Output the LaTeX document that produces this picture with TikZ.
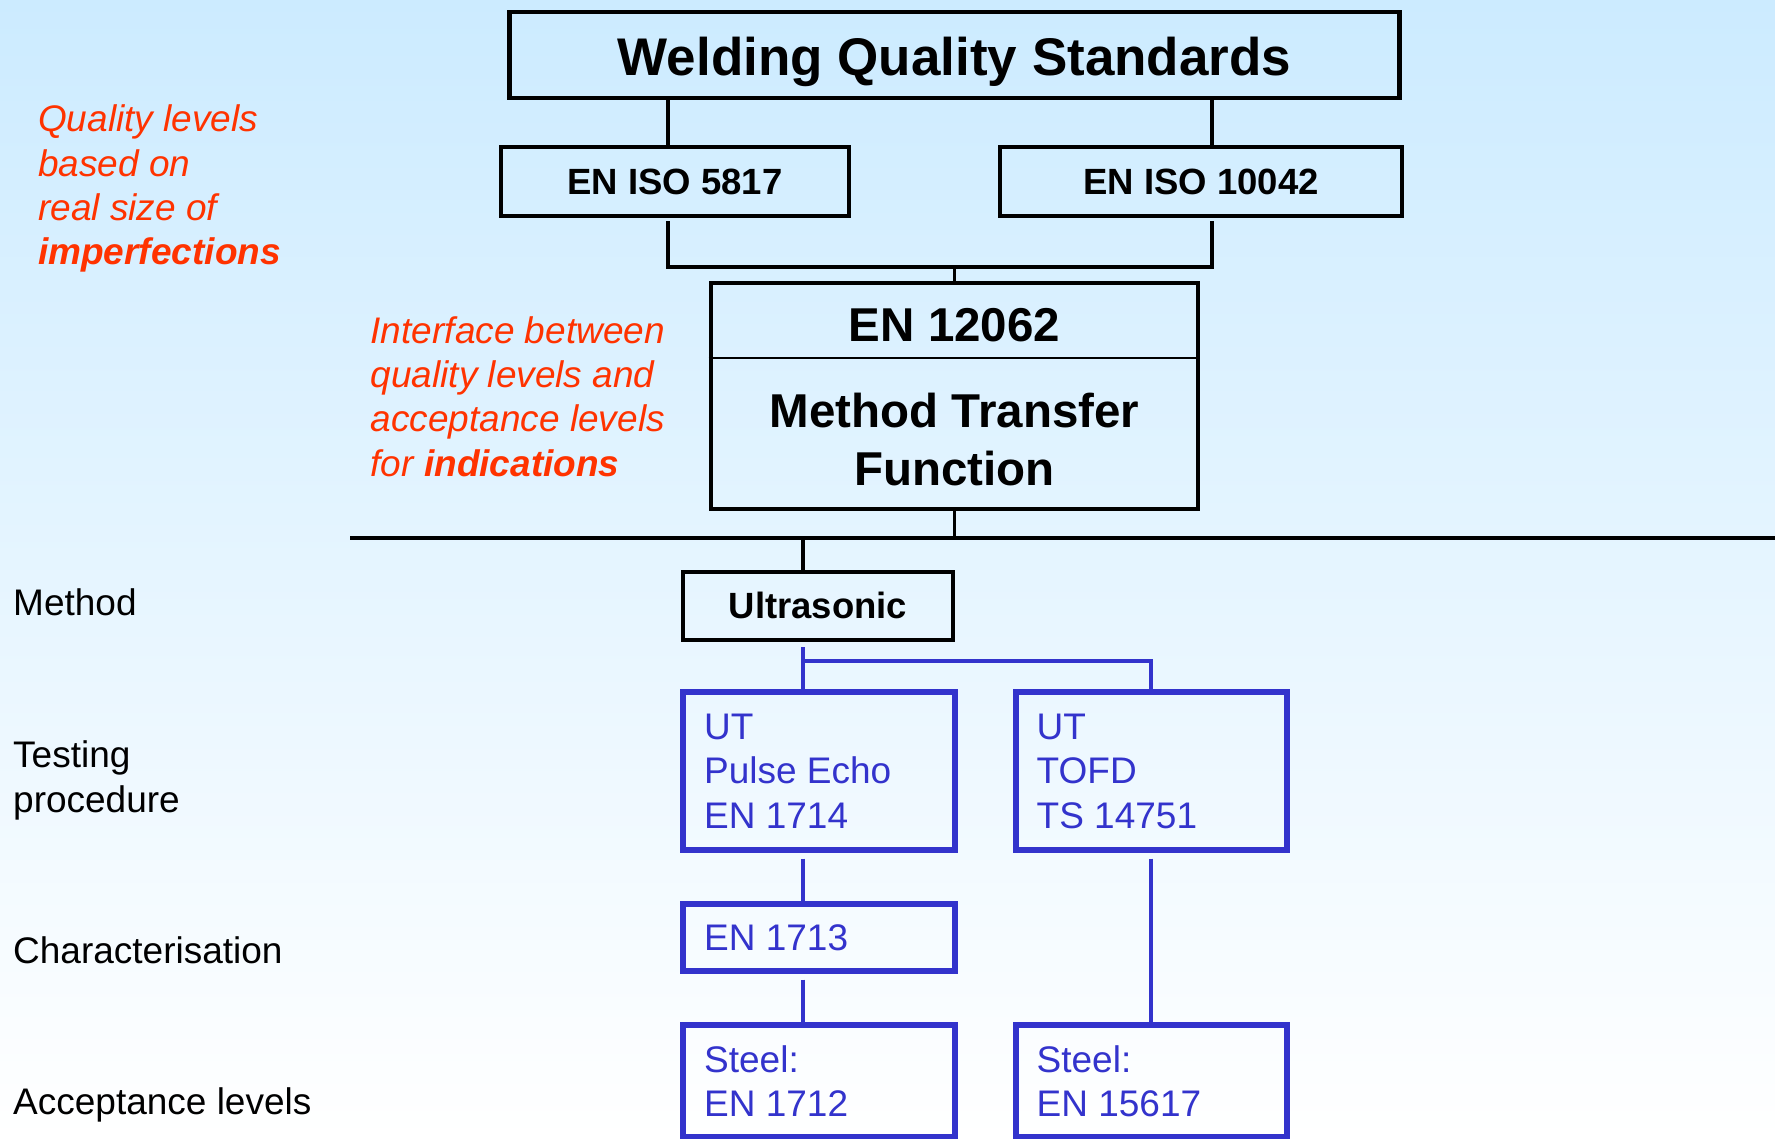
\documentclass[tikz,border=0pt]{standalone}
\usepackage{fontspec}
\setmainfont{Liberation Sans}
\definecolor{bgtop}{HTML}{CCEBFF}
\definecolor{ublue}{HTML}{3333CC}
\definecolor{ored}{HTML}{FF3300}
\newcommand\myfs[2]{\fontsize{#1}{#2}\selectfont}
\begin{document}
\begin{tikzpicture}[x=1pt,y=-1pt,
  blk/.style={draw=black,line width=4.8pt,inner sep=0pt},
  blu/.style={draw=ublue,line width=5.2pt,inner sep=0pt},
  btxt/.style={anchor=base,inner sep=0pt,font=\bfseries\myfs{#1}{#1}},
  utxt/.style={anchor=base west,inner sep=0pt,text=ublue,font=\myfs{37}{37}},
  lbl/.style={anchor=base west,inner sep=0pt,font=\myfs{37}{37}},
  note/.style={anchor=base west,inner sep=0pt,text=ored,font=\itshape\myfs{37}{37}},
  bline/.style={draw=black,line width=3.2pt},
  uline/.style={draw=ublue,line width=3.5pt}]
\useasboundingbox (0,0) rectangle (1775,1139);
\shade[top color=bgtop,bottom color=white] (0,0) rectangle (1775,1139);

% black boxes
\node[blk,minimum width=890pt,minimum height=86pt] (wqs) at (954.5,55) {};
\node[btxt=53] (wqst) at (954.5,75.5) {Welding Quality Standards};
\node[blk,minimum width=348pt,minimum height=69pt] (s5817) at (675,181.5) {};
\node[btxt=36.5] (s5817t) at (675,195) {EN ISO 5817};
\node[blk,minimum width=402pt,minimum height=69pt] (s10042) at (1201,181.5) {};
\node[btxt=36.5] (s10042t) at (1201,195) {EN ISO 10042};
\node[blk,minimum width=487pt,minimum height=226pt] (en) at (954.5,396) {};
\node[btxt=47.5] (ent) at (954.5,341.5) {EN 12062};
\node[btxt=47.5] (mt1) at (954.5,428) {Method Transfer};
\node[btxt=47.5] (mt2) at (954.5,485) {Function};
\coordinate (dv) at (0,358);
\draw[line width=2.7pt] (en.west |- dv) -- (en.east |- dv);
\node[blk,minimum width=270pt,minimum height=68pt] (ult) at (818,606) {};
\node[btxt=36.5] (ultt) at (818,618) {Ultrasonic};

% blue boxes
\node[blu,minimum width=272pt,minimum height=158pt] (pe) at (819,771) {};
\node[utxt] (pe1) at (704,739.3) {UT};
\node[utxt] (pe2) at (704,783.8) {Pulse Echo};
\node[utxt] (pe3) at (704,828.3) {EN 1714};
\node[blu,minimum width=271pt,minimum height=158pt] (tofd) at (1151.5,771) {};
\node[utxt] (tf1) at (1036.5,739.3) {UT};
\node[utxt] (tf2) at (1036.5,783.8) {TOFD};
\node[utxt] (tf3) at (1036.5,828.3) {TS 14751};
\node[blu,minimum width=272pt,minimum height=67pt] (e1713) at (819,937.5) {};
\node[utxt] (e1713t) at (704,950.5) {EN 1713};
\node[blu,minimum width=272pt,minimum height=112pt] (e1712) at (819,1081) {};
\node[utxt] (e1712a) at (704,1072) {Steel:};
\node[utxt] (e1712b) at (704,1116) {EN 1712};
\node[blu,minimum width=271pt,minimum height=112pt] (e15617) at (1151.5,1081) {};
\node[utxt] (e15617a) at (1036.5,1072) {Steel:};
\node[utxt] (e15617b) at (1036.5,1116) {EN 15617};

% left labels
\node[lbl] (lm) at (13,615) {Method};
\node[lbl] (lt1) at (13,767.5) {Testing};
\node[lbl] (lt2) at (13,812.5) {procedure};
\node[lbl] (lc) at (13,963.5) {Characterisation};
\node[lbl] (la) at (13,1114) {Acceptance levels};

% red notes
\node[note] (q1) at (38,131.7) {Quality levels};
\node[note] (q2) at (38,176.2) {based on};
\node[note] (q3) at (38,220.2) {real size of};
\node[note] (q4) at (38,264.2) {\bfseries imperfections};
\node[note] (i1) at (370.5,343.3) {Interface between};
\node[note] (i2) at (370.5,387.3) {quality levels and};
\node[note] (i3) at (370.5,431.8) {acceptance levels};
\node[note] (i4) at (370.5,476.3) {for \bfseries indications};

% black connectors
\coordinate (xa) at (668,0);
\coordinate (xb) at (1212,0);
\coordinate (jn) at (954.5,267);
\draw[bline] (wqs.south -| xa) -- (s5817.north -| xa);
\draw[bline] (wqs.south -| xb) -- (s10042.north -| xb);
\draw[bline] ([yshift=-3pt]s5817.south -| xa) |- (jn) -| ([yshift=-3pt]s10042.south -| xb);
\draw[bline] (jn) -- (en.north);
\coordinate (hl) at (350,538);
\coordinate (hr) at (1775,538);
\draw[line width=4.5pt] (hl) -- (hr);
\draw[bline] (en.south) -- (en.south |- hl);
\coordinate (xu) at (803,0);
\draw[bline] (hl -| xu) -- (ult.north -| xu);

% blue connectors
\coordinate (bs) at (803,647);
\coordinate (bj) at (1151,661);
\draw[uline] (bs) -- (pe.north -| bs);
\draw[uline] (bs |- bj) -- (bj) -- (tofd.north -| bj);
\draw[uline] ([yshift=-6pt]pe.south -| xu) -- (e1713.north -| xu);
\draw[uline] ([yshift=-6pt]e1713.south -| xu) -- (e1712.north -| xu);
\draw[uline] ([yshift=-6pt]tofd.south -| bj) -- (e15617.north -| bj);
\end{tikzpicture}
\end{document}
